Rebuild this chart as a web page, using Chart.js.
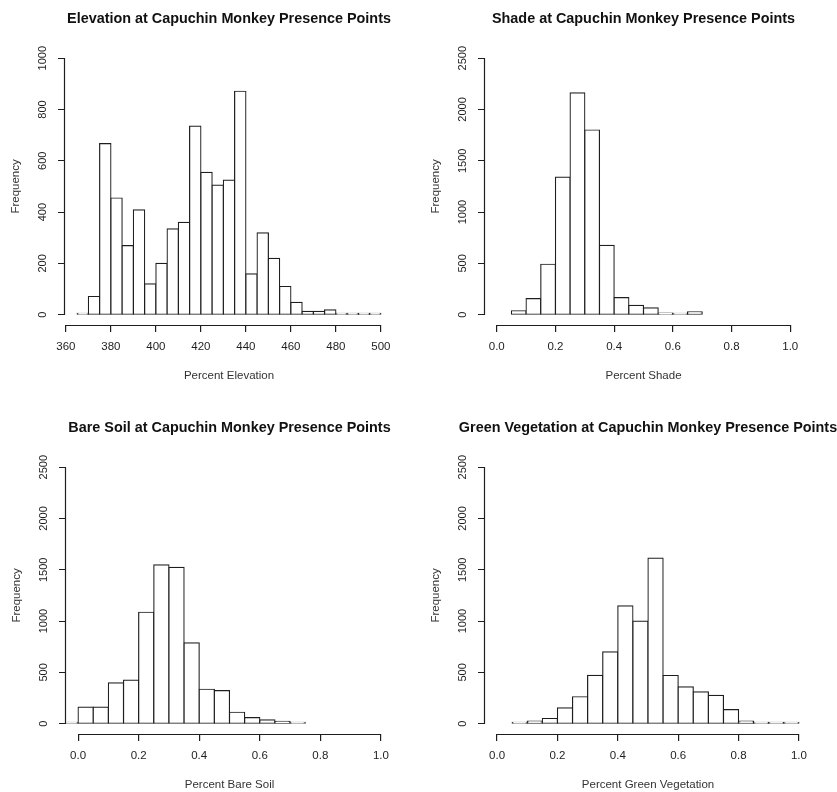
<!DOCTYPE html>
<html>
<head>
<meta charset="utf-8">
<script src="https://cdn.jsdelivr.net/npm/chart.js@4"></script>
<style>
  html, body { margin: 0; padding: 0; background: #fff; overflow: hidden; }
  body { width: 837px; height: 792px; position: relative; }
  .panel { position: absolute; }
</style>
</head>
<body>
<div class="panel" id="p1"><canvas id="c1"></canvas></div>
<div class="panel" id="p2"><canvas id="c2"></canvas></div>
<div class="panel" id="p3"><canvas id="c3"></canvas></div>
<div class="panel" id="p4"><canvas id="c4"></canvas></div>
<script>
// bin lower edges and counts
const elevBins = [365, 370, 375, 380, 385, 390, 395, 400, 405, 410, 415, 420, 425, 430, 435,
                  440, 445, 450, 455, 460, 465, 470, 475, 480, 485, 490, 495];
const elevCounts = [4, 71, 667, 455, 269, 409, 120, 200, 335, 360, 735, 555, 505, 525, 871,
                    159, 319, 220, 110, 48, 13, 13, 19, 4, 4, 4, 4];

const shadeBins = [0.05, 0.10, 0.15, 0.20, 0.25, 0.30, 0.35, 0.40, 0.45, 0.50, 0.55, 0.60, 0.65];
const shadeCounts = [39, 157, 492, 1341, 2162, 1800, 675, 166, 91, 67, 16, 3, 29];

const soilBins = [-0.05, 0.00, 0.05, 0.10, 0.15, 0.20, 0.25, 0.30, 0.35, 0.40, 0.45, 0.50,
                  0.55, 0.60, 0.65, 0.70];
const soilCounts = [10, 161, 161, 399, 424, 1086, 1547, 1524, 787, 336, 323, 112, 60, 38, 23, 7];

const vegBins = [0.05, 0.10, 0.15, 0.20, 0.25, 0.30, 0.35, 0.40, 0.45, 0.50, 0.55, 0.60,
                 0.65, 0.70, 0.75, 0.80, 0.85, 0.90, 0.95];
const vegCounts = [7, 25, 51, 155, 263, 472, 701, 1149, 1000, 1614, 470, 360, 310, 276, 137,
                   25, 1, 10, 1];

// axis ticks
const elevTicks = [360, 380, 400, 420, 440, 460, 480, 500];
const propTicks = [0, 0.2, 0.4, 0.6, 0.8, 1.0];
const propTickLabels = ['0.0', '0.2', '0.4', '0.6', '0.8', '1.0'];
const freqTicks1000 = [0, 200, 400, 600, 800, 1000];
const freqTicks2500 = [0, 500, 1000, 1500, 2000, 2500];

const FONT = '"Liberation Sans", Arial, Helvetica, sans-serif';
const INK = '#1e1e1e';
const SIDE = 66; // width of the left axis box (and mirrored right spacer)

// R style axes: a line from first to last tick only
const axisLines = {
  id: 'axisLines',
  afterDraw(chart) {
    const { ctx, scales: { x, y } } = chart;
    const xt = x.ticks, yt = y.ticks;
    ctx.save();
    ctx.strokeStyle = INK;
    ctx.lineWidth = 1.2;
    ctx.beginPath();
    ctx.moveTo(x.getPixelForValue(xt[0].value), x.top + 0.5);
    ctx.lineTo(x.getPixelForValue(xt[xt.length - 1].value), x.top + 0.5);
    ctx.moveTo(y.right - 0.5, y.getPixelForValue(yt[0].value));
    ctx.lineTo(y.right - 0.5, y.getPixelForValue(yt[yt.length - 1].value));
    ctx.stroke();
    ctx.restore();
  }
};

function histogram(id, box, cfg) {
  const wrap = document.getElementById('p' + id);
  wrap.style.left = box.left + 'px';
  wrap.style.top = box.top + 'px';
  wrap.style.width = box.width + 'px';
  wrap.style.height = box.height + 'px';

  const width = cfg.binWidth;
  const points = cfg.bins.map((b, i) => ({ x: b + width / 2, y: cfg.counts[i] }));

  new Chart(document.getElementById('c' + id), {
    type: 'bar',
    data: {
      datasets: [{
        data: points,
        backgroundColor: '#ffffff',
        borderColor: INK,
        borderWidth: 1.2,
        borderSkipped: false,
        inflateAmount: 0.6,
        minBarLength: 1.5,
        barPercentage: 1,
        categoryPercentage: 1,
        grouped: false
      }]
    },
    options: {
      responsive: true,
      maintainAspectRatio: false,
      animation: false,
      events: [],
      layout: { padding: 0 },
      plugins: {
        legend: { display: false },
        tooltip: { enabled: false },
        title: {
          display: true,
          text: cfg.title,
          color: '#111',
          font: { family: FONT, size: 14.4, weight: 'bold', lineHeight: 1.2 },
          padding: { top: box.titleTop, bottom: box.titleBottom }
        }
      },
      scales: {
        x: {
          type: 'linear',
          position: 'bottom',
          min: cfg.xMin,
          max: cfg.xMax,
          offset: false,
          afterBuildTicks: s => { s.ticks = cfg.xTicks.map(v => ({ value: v })); },
          afterFit: s => { s.height = 65; },
          border: { display: false },
          grid: { display: true, offset: false, drawOnChartArea: false, drawTicks: true, tickLength: 7, color: INK, lineWidth: 1.2 },
          ticks: {
            color: INK,
            padding: 8,
            maxRotation: 0,
            autoSkip: false,
            font: { family: FONT, size: 11.5 },
            callback: (v, i) => (cfg.xLabels ? cfg.xLabels[i] : String(v))
          },
          title: {
            display: true,
            text: cfg.xTitle,
            color: '#333',
            font: { family: FONT, size: 11.5, lineHeight: 1.2 },
            padding: { top: 0, bottom: 7.2 }
          }
        },
        y: {
          type: 'linear',
          position: 'left',
          min: cfg.yMin,
          max: cfg.yMax,
          afterBuildTicks: s => { s.ticks = cfg.yTicks.map(v => ({ value: v })); },
          afterFit: s => { s.width = SIDE; },
          border: { display: false },
          grid: { display: true, drawOnChartArea: false, drawTicks: true, tickLength: 7, color: INK },
          ticks: {
            color: INK,
            padding: 3,
            minRotation: 90,
            maxRotation: 90,
            crossAlign: 'center',
            autoSkip: false,
            font: { family: FONT, size: 11 },
            callback: v => String(v)
          },
          title: {
            display: true,
            text: 'Frequency',
            color: '#333',
            font: { family: FONT, size: 11.5, lineHeight: 1.2 },
            padding: { top: 10, bottom: 0 }
          }
        },
        // empty box on the right so the title centres over the plot area
        yR: {
          type: 'linear',
          position: 'right',
          afterFit: s => { s.width = SIDE; },
          border: { display: false },
          grid: { display: false },
          ticks: { display: false }
        }
      }
    },
    plugins: [axisLines]
  });
}

histogram(1, { left: 65 - SIDE, top: 0, width: 328 + 2 * SIDE, height: 390, titleTop: 10, titleBottom: 20.6 }, {
  title: 'Elevation at Capuchin Monkey Presence Points',
  xTitle: 'Percent Elevation',
  bins: elevBins, counts: elevCounts, binWidth: 5,
  xMin: 359.6, xMax: 505.4, xTicks: elevTicks,
  yMin: -40, yMax: 1040, yTicks: freqTicks1000
});

histogram(2, { left: 485 - SIDE, top: 0, width: 317 + 2 * SIDE, height: 390, titleTop: 10, titleBottom: 20.6 }, {
  title: 'Shade at Capuchin Monkey Presence Points',
  xTitle: 'Percent Shade',
  bins: shadeBins, counts: shadeCounts, binWidth: 0.05,
  xMin: -0.04, xMax: 1.04, xTicks: propTicks, xLabels: propTickLabels,
  yMin: -100, yMax: 2600, yTicks: freqTicks2500
});

histogram(3, { left: 66 - SIDE, top: 400, width: 327 + 2 * SIDE, height: 399, titleTop: 19, titleBottom: 20.6 }, {
  title: 'Bare Soil at Capuchin Monkey Presence Points',
  xTitle: 'Percent Bare Soil',
  bins: soilBins, counts: soilCounts, binWidth: 0.05,
  xMin: -0.04, xMax: 1.04, xTicks: propTicks, xLabels: propTickLabels,
  yMin: -100, yMax: 2600, yTicks: freqTicks2500
});

histogram(4, { left: 485 - SIDE, top: 400, width: 326 + 2 * SIDE, height: 399, titleTop: 19, titleBottom: 20.6 }, {
  title: 'Green Vegetation at Capuchin Monkey Presence Points',
  xTitle: 'Percent Green Vegetation',
  bins: vegBins, counts: vegCounts, binWidth: 0.05,
  xMin: -0.04, xMax: 1.04, xTicks: propTicks, xLabels: propTickLabels,
  yMin: -100, yMax: 2600, yTicks: freqTicks2500
});
</script>
</body>
</html>
